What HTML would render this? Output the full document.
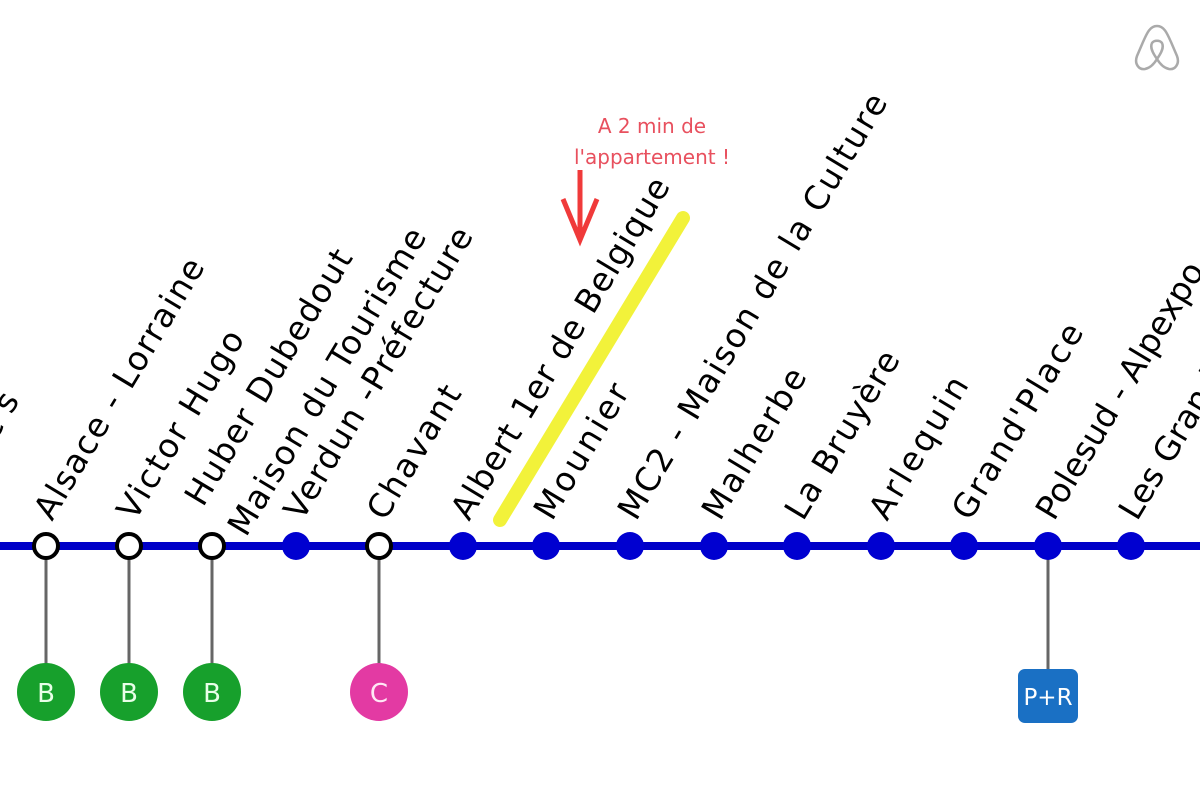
<!DOCTYPE html>
<html><head><meta charset="utf-8"><style>
html,body{margin:0;padding:0;background:#fff;width:1200px;height:800px;overflow:hidden}
svg text{font-family:"DejaVu Sans","Liberation Sans",sans-serif}
</style></head><body>
<svg width="1200" height="800" viewBox="0 0 1200 800" xmlns="http://www.w3.org/2000/svg">
<rect width="1200" height="800" fill="#fff"/>
<path d="M1157,26 C1150,26 1147,33 1143,42 L1137,56 C1134,64 1139,70 1145,69 C1150,68 1154,64 1157,59 C1160,64 1164,68 1169,69 C1175,70 1180,64 1177,56 L1171,42 C1167,33 1164,26 1157,26 Z M1157,59 C1152,52 1150,47 1152,43 C1154,40 1160,40 1162,43 C1164,47 1162,52 1157,59 Z" fill="none" stroke="#aaa" stroke-width="2.5"/>
<line x1="500" y1="520" x2="683" y2="218" stroke="#f2f23a" stroke-width="14" stroke-linecap="round"/>
<text x="652" y="133" font-size="20" fill="#e8505e" text-anchor="middle" font-family="Liberation Sans">A  2 min de</text>
<text x="652" y="164" font-size="20" fill="#e8505e" text-anchor="middle" font-family="Liberation Sans">l'appartement !</text>
<line x1="580" y1="170" x2="580" y2="238" stroke="#f03a3a" stroke-width="5"/>
<polyline points="563,199 580,240 597,199" fill="none" stroke="#f03a3a" stroke-width="5"/>
<g stroke="#666" stroke-width="3">
<line x1="46" y1="546" x2="46" y2="670"/><line x1="129" y1="546" x2="129" y2="670"/>
<line x1="212" y1="546" x2="212" y2="670"/><line x1="379" y1="546" x2="379" y2="670"/>
<line x1="1048" y1="546" x2="1048" y2="672"/>
</g>
<line x1="0" y1="546" x2="1200" y2="546" stroke="#0000c8" stroke-width="8"/>
<g fill="#0000d0">
<circle cx="296" cy="546" r="14"/><circle cx="463" cy="546" r="14"/><circle cx="546" cy="546" r="14"/>
<circle cx="630" cy="546" r="14"/><circle cx="714" cy="546" r="14"/><circle cx="797" cy="546" r="14"/>
<circle cx="881" cy="546" r="14"/><circle cx="964" cy="546" r="14"/><circle cx="1048" cy="546" r="14"/>
<circle cx="1131" cy="546" r="14"/>
</g>
<g fill="#fff" stroke="#000" stroke-width="4">
<circle cx="46" cy="546" r="12"/><circle cx="129" cy="546" r="12"/><circle cx="212" cy="546" r="12"/><circle cx="379" cy="546" r="12"/>
</g>
<g font-size="26" text-anchor="middle" fill="#e8ffe8">
<circle cx="46" cy="692" r="29" fill="#17a02c"/><text x="46" y="702">B</text>
<circle cx="129" cy="692" r="29" fill="#17a02c"/><text x="129" y="702">B</text>
<circle cx="212" cy="692" r="29" fill="#17a02c"/><text x="212" y="702">B</text>
<circle cx="379" cy="692" r="29" fill="#e33aa3"/><text x="379" y="702" fill="#ffe8f5">C</text>
<rect x="1018" y="669" width="60" height="54" rx="7" fill="#1a70c4"/><text x="1048" y="705" font-size="23" fill="#fff">P+R</text>
</g>
<g font-size="33" fill="#000">
<text transform="translate(-53,522) rotate(-59)" textLength="142">Gares</text>
<text transform="translate(52,522) rotate(-59)" textLength="298">Alsace - Lorraine</text>
<text transform="translate(135,522) rotate(-59)" textLength="214">Victor Hugo</text>
<text transform="translate(203,508) rotate(-59)" textLength="292">Huber Dubedout</text>
<text transform="translate(246,538) rotate(-59)" textLength="352">Maison du Tourisme</text>
<text transform="translate(302,522) rotate(-59)" textLength="334">Verdun -Préfecture</text>
<text transform="translate(385,522) rotate(-59)" textLength="150">Chavant</text>
<text transform="translate(469,522) rotate(-59)" textLength="392">Albert 1er de Belgique</text>
<text transform="translate(552,522) rotate(-59)" textLength="152">Mounier</text>
<text transform="translate(636,522) rotate(-59)" textLength="490">MC2 - Maison de la Culture</text>
<text transform="translate(720,522) rotate(-59)" textLength="170">Malherbe</text>
<text transform="translate(803,522) rotate(-59)" textLength="190">La Bruyère</text>
<text transform="translate(887,522) rotate(-59)" textLength="160">Arlequin</text>
<text transform="translate(970,522) rotate(-59)" textLength="222">Grand'Place</text>
<text transform="translate(1054,522) rotate(-59)">Polesud - Alpexpo</text>
<text transform="translate(1137,522) rotate(-59)">Les Grands Sablons</text>
</g>
</svg>
</body></html>
